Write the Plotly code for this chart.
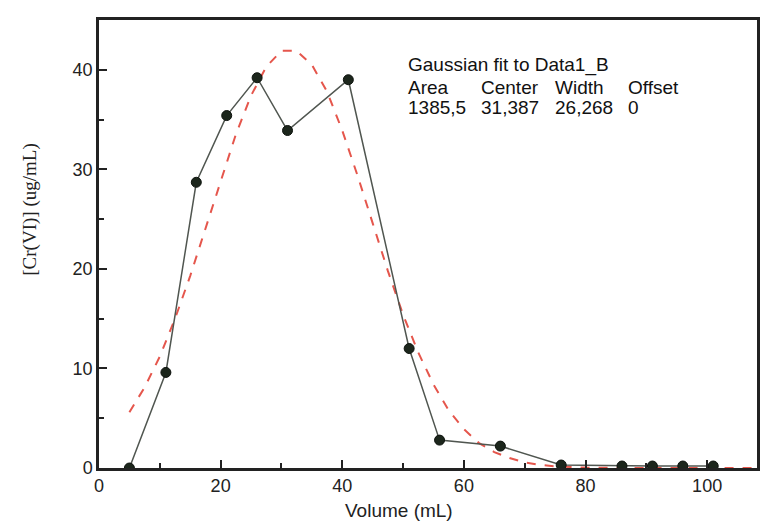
import plotly.graph_objects as go

# Measured data (Volume in mL, [Cr(VI)] in ug/mL)
volume = [5, 11, 16, 21, 26, 31, 41, 51, 56, 66, 76, 86, 91, 96, 101]
conc = [0.0, 9.6, 28.7, 35.4, 39.2, 33.9, 39.0, 12.0, 2.8, 2.2, 0.3, 0.2, 0.2, 0.2, 0.2]

# Gaussian fit curve
fit_x = [5, 7.5, 10, 12.5, 15, 17.5, 20, 22.5, 25, 27.5, 30, 32.5, 35, 37.5, 40, 42.5,
         45, 47.5, 50, 52.5, 55, 57.5, 60, 62.5, 65, 67.5, 70, 72.5, 75, 80, 85, 90, 95, 100, 105, 108]
fit_y = [5.6, 8.1, 11.2, 15.0, 19.3, 24.1, 28.9, 33.5, 37.4, 40.3, 41.9, 41.9, 40.5, 37.8, 33.9, 29.4,
         24.6, 19.8, 15.4, 11.6, 8.4, 5.8, 3.9, 2.5, 1.6, 1.0, 0.56, 0.31, 0.17, 0.04, 0.01, 0, 0, 0, 0, 0]

fit_title = "Gaussian fit to Data1_B"
fit_headers = ["Area", "Center", "Width", "Offset"]
fit_values = ["1385,5", "31,387", "26,268", "0"]
col_x = [50.5, 62.5, 74.6, 86.6]

x_ticks = [0, 20, 40, 60, 80, 100]
y_ticks = [0, 10, 20, 30, 40]

fig = go.Figure()
fig.add_trace(go.Scatter(x=fit_x, y=fit_y, mode="lines",
                         line=dict(color="#e5564c", width=2, dash="dash"),
                         showlegend=False))
fig.add_trace(go.Scatter(x=volume, y=conc, mode="lines+markers",
                         line=dict(color="#505650", width=1.5),
                         marker=dict(size=10, color="#1c261c", line=dict(color="#0d120d", width=1)),
                         showlegend=False))

font_sans = "Liberation Sans, Arial, sans-serif"
txt_font = dict(family=font_sans, size=19, color="#111")

ann = [dict(x=col_x[0], y=40.5, xref="x", yref="y", text=fit_title, showarrow=False,
            xanchor="left", yanchor="middle", font=txt_font)]
for cx, h, v in zip(col_x, fit_headers, fit_values):
    ann.append(dict(x=cx, y=38.2, xref="x", yref="y", text=h, showarrow=False,
                    xanchor="left", yanchor="middle", font=txt_font))
    ann.append(dict(x=cx, y=36.2, xref="x", yref="y", text=v, showarrow=False,
                    xanchor="left", yanchor="middle", font=txt_font))
ann.append(dict(x=-0.104, y=25.9, xref="paper", yref="y", text="[Cr(VI)] (ug/mL)", textangle=-90,
                showarrow=False, xanchor="center", yanchor="middle",
                font=dict(family="Liberation Serif, Times New Roman, serif", size=19, color="#222")))
ann.append(dict(x=49.3, y=-0.094, xref="x", yref="paper", text="Volume (mL)", showarrow=False,
                xanchor="center", yanchor="middle", font=dict(family=font_sans, size=19, color="#222")))

fig.update_layout(
    width=762, height=523,
    margin=dict(l=99, r=2, t=20, b=55),
    paper_bgcolor="white", plot_bgcolor="white",
    annotations=ann,
    xaxis=dict(range=[0, 108.2], tickvals=x_ticks, ticks="inside", ticklen=8, tickwidth=1.5,
               tickcolor="#222", showgrid=False, zeroline=False,
               showline=True, linecolor="#222", linewidth=2.5, mirror=True,
               minor=dict(dtick=10, tick0=0, ticks="inside", ticklen=5, tickcolor="#222", showgrid=False),
               tickfont=dict(family=font_sans, size=18, color="#222")),
    yaxis=dict(range=[0, 45], tickvals=y_ticks, ticks="inside", ticklen=8, tickwidth=1.5,
               tickcolor="#222", showgrid=False, zeroline=False,
               showline=True, linecolor="#222", linewidth=2.5, mirror=True,
               minor=dict(dtick=5, tick0=0, ticks="inside", ticklen=5, tickcolor="#222", showgrid=False),
               tickfont=dict(family=font_sans, size=18, color="#222")),
)

fig.write_html("out.html")
